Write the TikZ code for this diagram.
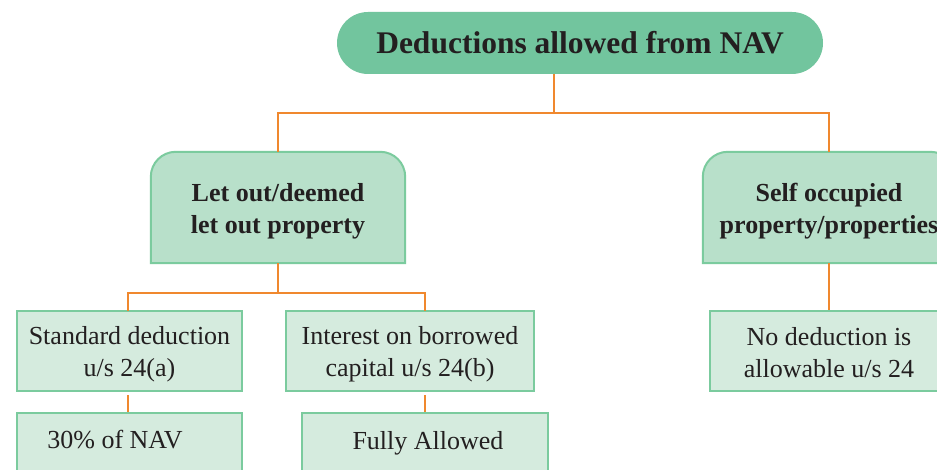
\documentclass[tikz,border=0pt]{standalone}
\usepackage{fontspec}
\setmainfont{Liberation Serif}
\definecolor{titlegreen}{HTML}{72C59E}
\definecolor{midgreen}{HTML}{B8E0CA}
\definecolor{palegreen}{HTML}{D5EBDE}
\definecolor{edgegreen}{HTML}{7BCB9E}
\definecolor{wire}{HTML}{F0882E}
\definecolor{ink}{HTML}{231F20}
\tikzset{
  titlebox/.style={rectangle, rounded corners=31pt, fill=titlegreen, text=ink,
    minimum width=486pt, minimum height=62pt, inner sep=0pt,
    font=\fontsize{31.5}{37}\selectfont\bfseries},
  groupbox/.style={rectangle, inner sep=0pt},
  grouptext/.style={inner sep=0pt, text=ink, align=center, yshift=-4pt,
    font=\fontsize{26}{32}\selectfont\bfseries},
  itembox/.style={rectangle, draw=edgegreen, line width=2pt, fill=palegreen,
    inner sep=0pt},
  itemtext/.style={inner sep=0pt, text=ink, align=center,
    font=\fontsize{26}{32}\selectfont},
  tabshape/.style={draw=edgegreen, line width=2pt, fill=midgreen},
  link/.style={draw=wire, line width=2pt}
}
\begin{document}
\begin{tikzpicture}[x=1pt, y=-1pt]
  \fill[white] (0,0) rectangle (937,470);
  \path[use as bounding box, clip] (0,0) rectangle (937,470);

  % root
  \node[titlebox] (nav) at (580,43) {Deductions allowed from NAV};

  % second level: boxes with rounded top corners
  \node[groupbox, minimum width=254pt, minimum height=111pt] (let) at (278,207.5) {};
  \node[groupbox, minimum width=252pt, minimum height=111pt] (self) at (829,207.5) {};
  \draw[tabshape] (let.south west) [rounded corners=25pt] -- (let.north west) -- (let.north east) [sharp corners] -- (let.south east) -- cycle;
  \draw[tabshape] (self.south west) [rounded corners=25pt] -- (self.north west) -- (self.north east) [sharp corners] -- (self.south east) -- cycle;
  \node[grouptext] (lettext) at (let.center) {Let out/deemed\\let out property};
  \node[grouptext] (selftext) at (self.center) {Self occupied\\property/properties};

  % third level
  \node[itembox, minimum width=225pt, minimum height=80pt] (std) at (129.5,351) {};
  \node[itembox, minimum width=248pt, minimum height=80pt] (int) at (410,351) {};
  \node[itembox, minimum width=238pt, minimum height=80pt] (none) at (829,351) {};
  \node[itemtext, yshift=-3pt] (stdtext) at (std.center) {Standard deduction\\u/s 24(a)};
  \node[itemtext, yshift=-3pt] (inttext) at (int.center) {Interest on borrowed\\capital u/s 24(b)};
  \node[itemtext, yshift=-2pt] (nonetext) at (none.center) {No deduction is\\allowable u/s 24};

  % fourth level
  \node[itembox, minimum width=225pt, minimum height=100pt] (thirty) at (129.5,463) {};
  \node[itemtext] (thirtytext) at (115,440) {30\% of NAV};
  \node[itembox, minimum width=246pt, minimum height=100pt] (full) at (425,463) {};
  \node[itemtext] (fulltext) at (428,443.5) {Fully Allowed};

  % connectors
  \coordinate (rootbus) at (554,113);
  \coordinate (busL) at (let.north |- rootbus);
  \coordinate (busR) at (self.north |- rootbus);
  \draw[link] (nav.south -| rootbus) -- (rootbus);
  \draw[link] (let.north) -- (busL) -- (busR) -- (self.north);

  \coordinate (letbus) at (278,293);
  \coordinate (stdtop) at (128,311);
  \coordinate (inttop) at (425,311);
  \draw[link] (let.south) -- (letbus);
  \draw[link] (stdtop) -- (stdtop |- letbus) -- (inttop |- letbus) -- (inttop);
  \draw[link] (self.south) -- (none.north);

  \coordinate (stdstub) at (128,395);
  \coordinate (intstub) at (425,395);
  \draw[link] (stdstub) -- (stdstub |- thirty.north);
  \draw[link] (intstub) -- (intstub |- full.north);
\end{tikzpicture}
\end{document}
